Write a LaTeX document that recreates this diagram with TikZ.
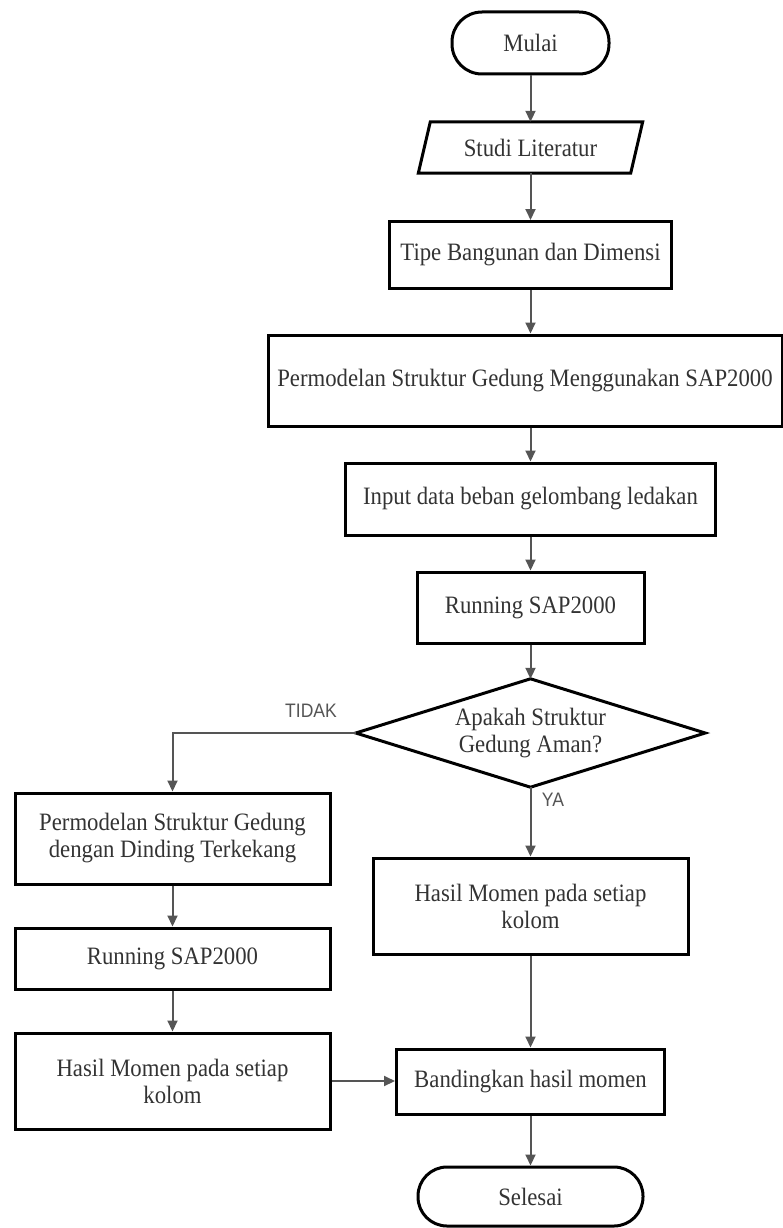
\documentclass[tikz,border=0pt]{standalone}
\usepackage{fontspec}
\setmainfont{Liberation Serif}[FakeStretch=0.91]
\setsansfont{Liberation Sans}[FakeStretch=0.9]
\usetikzlibrary{arrows.meta}
\definecolor{txt}{HTML}{333333}
\definecolor{ln}{HTML}{555555}
\begin{document}
\begin{tikzpicture}[x=1pt,y=-1pt,
  plain/.style={rectangle, text=txt, align=center, inner sep=0pt, font=\fontsize{25}{27}\selectfont},
  box/.style={plain, draw=black, line width=3pt},
  term/.style={box, rounded corners=30pt},
  conn/.style={draw=ln, line width=2pt, -{Triangle[length=11pt,width=10pt]}},
  lbl/.style={text=ln, inner sep=0pt, font=\sffamily\fontsize{19.5}{21}\selectfont},
  outline/.style={draw=black, line width=3pt, line join=miter}]
\useasboundingbox (0,0) rectangle (783,1228);
\node[term, minimum width=157pt, minimum height=62pt] (mulai) at (530.5,43) {Mulai};
\node[plain, minimum width=212pt, minimum height=51pt] (studi) at (530.5,147.5) {Studi Literatur};
\draw[outline] ([xshift=6pt]studi.north west) -- ([xshift=6pt]studi.north east) -- ([xshift=-6pt]studi.south east) -- ([xshift=-6pt]studi.south west) -- cycle;
\node[box, minimum width=282pt, minimum height=67pt] (tipe) at (530.5,255) {Tipe Bangunan dan Dimensi};
\node[box, minimum width=514pt, minimum height=91pt] (perm) at (525,380.5) {Permodelan Struktur Gedung Menggunakan SAP2000};
\node[box, minimum width=370pt, minimum height=72pt] (input) at (530.5,499) {Input data beban gelombang ledakan};
\node[box, minimum width=227pt, minimum height=71pt] (run1) at (530.5,607.5) {Running SAP2000};
\node[plain, minimum width=349pt, minimum height=108pt] (dia) at (530.5,733) {Apakah Struktur\\Gedung Aman?};
\draw[outline] (dia.north) -- (dia.east) -- (dia.south) -- (dia.west) -- cycle;
\node[box, minimum width=315pt, minimum height=91pt] (perm2) at (172.5,838.5) {Permodelan Struktur Gedung\\dengan Dinding Terkekang};
\node[box, minimum width=315pt, minimum height=61pt] (run2) at (172.5,958.5) {Running SAP2000};
\node[box, minimum width=315pt, minimum height=96pt] (hasil2) at (172.5,1081) {Hasil Momen pada setiap\\kolom};
\node[box, minimum width=315pt, minimum height=96pt] (hasil1) at (530.5,906) {Hasil Momen pada setiap\\kolom};
\node[box, minimum width=268pt, minimum height=65pt] (band) at (530.5,1081.5) {Bandingkan hasil momen};
\node[term, minimum width=225pt, minimum height=59pt, rounded corners=29pt] (selesai) at (530.5,1196.5) {Selesai};
\node[lbl] (tidak) at (311,711) {TIDAK};
\node[lbl] (ya) at (553,800) {YA};
\draw[conn] (mulai) -- (studi);
\draw[conn] (studi) -- (tipe);
\draw[conn] (tipe.south) -- (tipe.south |- perm.north);
\draw[conn] (perm.south -| input) -- (input);
\draw[conn] (input) -- (run1);
\draw[conn] (run1) -- (dia);
\draw[conn] (dia.west) -| (perm2.north);
\draw[conn] (dia) -- (hasil1);
\draw[conn] (hasil1) -- (band);
\draw[conn] (perm2) -- (run2);
\draw[conn] (run2) -- (hasil2);
\draw[conn] (hasil2.east) -- (hasil2.east -| band.west);
\draw[conn] (band) -- (selesai);
\end{tikzpicture}
\end{document}
